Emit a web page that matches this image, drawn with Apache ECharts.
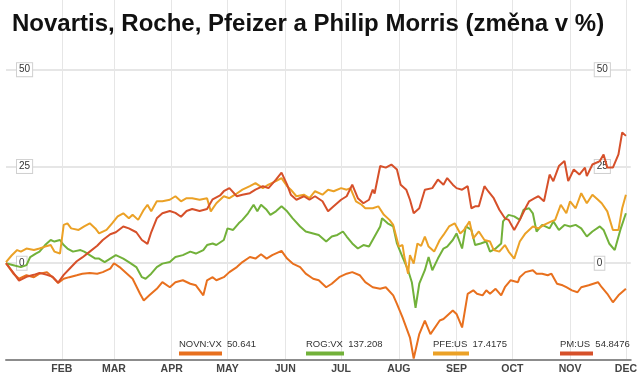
<!DOCTYPE html>
<html>
<head>
<meta charset="utf-8">
<script src="https://cdn.jsdelivr.net/npm/echarts@6/dist/echarts.min.js"></script>
<style>
  html, body { margin: 0; padding: 0; background: #fff; }
  #container { width: 640px; height: 376px; }
</style>
</head>
<body>
<div id="container"></div>
<script>
// days counted from 1 Jan 2011, values = change in %
var novnDays = [1,5,8,12,16,19,23,26,29,32,35,39,42,46,50,53,57,59,62,66,69,73,75,78,82,85,89,92,96,100,103,107,109,112,114,118,121,125,128,132,135,138,141,144,149,152,155,159,162,166,169,173,176,180,184,187,191,194,198,202,205,209,211,214,218,220,223,226,229,234,236,241,243,246,249,252,254,257,259,261,264,267,269,272,276,277,280,284,286,289,292,294,297,300,302,305,308,310,314,319,321,324,327,330,334];
var novnVals = [0,-2.7,-4,-3.1,-3.6,-2.7,-2.3,-3.6,-5.1,-4,-3.6,-3.1,-2.7,-2.5,-2.7,-2.3,-1.4,0,-1,-2.7,-4,-7.9,-9.6,-8.3,-6.6,-4.9,-6.2,-4.9,-4.4,-5.3,-5.7,-8.3,-4.4,-3.6,-4.4,-3.6,-2.3,-1,0.3,1.6,1.2,2.3,1.2,2.1,3.2,1.2,-0.1,-1,-2.7,-4,-4.4,-6.2,-5.3,-3.6,-2.7,-2.3,-3.1,-4.9,-6.2,-6.6,-6.2,-8.3,-10.5,-14,-19.2,-24.6,-18.3,-14.8,-18.3,-14.8,-14.4,-12.2,-13.1,-16.6,-7.9,-7,-7.9,-8.3,-7,-7.9,-6.6,-8.3,-6.2,-4.4,-4.9,-3.6,-2.3,-1.8,-2.7,-2.7,-3.1,-2.7,-5.3,-5.7,-6.2,-7,-7.5,-6.2,-5.7,-4.9,-6.2,-7.9,-10.1,-8.3,-6.6];

var rogDays = [1,5,9,12,14,17,19,22,25,27,30,32,34,37,41,43,46,49,51,54,57,60,64,67,71,74,76,79,82,85,89,92,96,100,103,107,109,112,114,118,120,123,126,128,131,134,136,138,141,143,146,149,152,155,159,162,166,169,173,176,179,182,184,187,190,193,196,199,202,203,206,209,211,214,217,219,221,223,226,228,230,233,236,238,241,243,246,248,251,253,256,259,261,264,267,268,271,274,277,279,282,284,286,289,293,295,298,301,304,307,310,313,316,320,322,325,328,331,334];
var rogVals = [0,-0.5,-1,-0.5,1.6,2.5,3,4.7,6,5.6,6,4.7,3.8,3,3.4,3,2.1,1.2,1.2,0.3,1.2,2.1,1.2,0.3,-1,-3.6,-4,-2.7,-1,-0.1,0.3,1.6,2.1,3,2.5,3.4,4.7,5.1,4.7,6,9,8.6,10.3,11.2,12.9,15.1,13.4,15.1,13.8,12.5,13.4,14.7,13.4,11.6,9.5,8.2,7.7,7.3,5.6,6.9,7.3,8.2,6.9,5.1,3.8,4.7,4.3,6.9,9.5,11.6,10.3,9.5,5.1,1.6,-1.8,-4.9,-11.5,-5.3,-1.8,1.6,-1.8,1.2,3.8,4.3,6,7.7,3.8,9.5,8.6,4.7,5.1,5.6,3,3.8,5.1,10.8,12.5,12.1,11.2,13.8,14.2,12.9,8.2,9.9,9,10.8,8.6,9.9,9.5,9.9,9,6.9,8.2,9.5,8.6,5.1,3.4,8.6,12.9];

var pfeDays = [1,4,7,9,12,16,19,22,25,27,30,32,34,36,40,43,46,49,51,55,58,61,64,67,69,72,75,77,79,82,85,89,92,95,98,101,105,109,111,114,118,121,124,128,132,135,139,142,146,149,152,154,157,161,164,167,171,174,177,181,184,186,189,192,194,198,201,204,207,209,212,214,215,217,218,220,222,224,226,228,231,234,236,239,242,245,247,250,252,255,258,261,263,266,269,271,274,277,280,284,287,290,294,296,299,302,304,307,310,313,316,319,321,324,327,330,332,334];
var pfeVals = [0.3,2,3.4,3,3.8,3.4,3.8,4.3,4.7,3,2.5,9.9,10.3,9,8.6,9.5,10.3,9,7.7,8.6,10.3,12.1,12.9,11.6,12.5,11.2,13.8,15.1,13.4,16,16,16.4,17.3,16,16.8,16.8,16.4,16.8,13.4,15.5,17.3,16.8,17.7,19,19.9,20.7,19.4,20.3,21.2,22,19.9,19,17.3,17.7,16.8,18.6,17.7,19,18.6,19.4,19,19.4,16,15.1,14.2,14.2,14.7,12.5,11.2,9.9,4.3,4.7,1.6,-2.7,2.1,-0.1,5.1,4.5,6.9,4.3,3,6,7.3,9.5,10.3,7.7,8.6,10.8,6.4,8.2,6,5.6,3.4,3,4.7,3,1.2,5.6,7.7,9.5,9,9.9,10.8,11.2,15.1,12.9,16,14.2,18.1,15.5,17.7,16.4,15.5,13.4,8.6,8.6,14.2,17.7];

var pmDays = [1,5,8,12,16,19,23,26,29,32,35,39,42,46,50,53,57,60,64,67,71,74,77,79,82,85,89,92,95,98,101,105,109,112,116,118,121,125,128,132,135,139,142,146,149,152,154,157,161,164,167,171,174,177,181,184,187,190,193,196,198,199,202,205,208,211,213,216,218,220,223,226,227,230,233,236,238,241,243,246,249,251,253,255,258,260,263,266,269,271,274,277,280,282,285,287,290,293,295,298,301,303,306,309,312,313,316,320,322,324,327,330,332,334];
var pmVals = [0,-2.5,-4.5,-3.5,-3,-2.5,-3,-3.5,-5,-3,-1.5,0.5,1.5,3,4.5,6,7.5,8,9.5,9,8,6,5,8,11.6,12.9,13.5,13,12,13.5,14,13.5,14,16.5,17.5,18.6,19.4,17.3,17.7,18.1,19,19.9,19.4,21.6,23.4,20.3,17.7,16.4,17.3,16.4,17.3,16,13.4,14.7,16.4,17.3,20.3,16.8,15.5,16.4,19,18,25.1,24.7,25.5,24.2,20.3,19,16.4,12.9,14.2,19,18.6,19.4,21.6,20.3,22,20.3,19.4,19,19.9,14.2,14.7,14.7,19.9,18.6,16.8,13.8,11.6,11.2,8.6,11.2,14.2,16,16.8,17.3,16,22.9,21.2,25.1,26.4,21.2,24.2,22.9,24.7,22.5,25.5,26.4,28.1,24.7,24.7,28.1,33.8,32.9];

var tickers = ['NOVN:VX', 'ROG:VX', 'PFE:US', 'PM:US'];
var prices = ['50.641', '137.208', '17.4175', '54.8476'];
var months = ['JAN','FEB','MAR','APR','MAY','JUN','JUL','AUG','SEP','OCT','NOV','DEC'];

var colors = ['#e8701e', '#72b13a', '#eba126', '#d6502a'];
var barWidths = [43, 38, 36, 33];

var DAY = 86400000;
var start = new Date(2011, 0, 1).getTime();
function toPairs(days, vals) {
  var res = [];
  for (var i = 0; i < days.length; i++) {
    res.push([start + days[i] * DAY, vals[i]]);
  }
  return res;
}

var allDays = [novnDays, rogDays, pfeDays, pmDays];
var allVals = [novnVals, rogVals, pfeVals, pmVals];

var myChart = echarts.init(document.getElementById('container'));

var series = [];
var legends = [];
for (var i = 0; i < tickers.length; i++) {
  series.push({
    name: tickers[i],
    type: 'line',
    showSymbol: false,
    silent: true,
    data: toPairs(allDays[i], allVals[i]),
    lineStyle: { width: 2, color: colors[i] },
    itemStyle: { color: colors[i] }
  });
  var rich = {
    t: { fontSize: 9.5, lineHeight: 12, color: '#333', fontFamily: 'Liberation Sans' }
  };
  rich['b' + i] = { width: barWidths[i], height: 4, lineHeight: 7, backgroundColor: colors[i] };
  legends.push({
    data: [tickers[i]],
    left: 169 + i * 127,
    top: 334,
    icon: 'rect',
    itemWidth: 0,
    itemHeight: 0,
    selectedMode: false,
    formatter: (function (k) {
      return function (name) {
        return '{t|' + name + '  ' + prices[k] + '}\n{b' + k + '|}';
      };
    })(i),
    textStyle: { rich: rich }
  });
}

var labelBox = {
  inside: true,
  showMinLabel: false,
  showMaxLabel: false,
  fontSize: 10,
  color: '#333',
  fontFamily: 'Liberation Sans',
  backgroundColor: '#fff',
  borderColor: '#d0d0d0',
  borderWidth: 1,
  padding: [2, 2, 1, 2]
};

var option = {
  animation: false,
  title: {
    text: 'Novartis, Roche, Pfeizer a Philip Morris (změna v %)',
    left: 7,
    top: 7,
    textStyle: { fontSize: 24, fontWeight: 'bold', color: '#111', fontFamily: 'Liberation Sans' }
  },
  legend: legends,
  grid: { left: 6, right: 8, top: 0, bottom: 16 },
  xAxis: {
    type: 'time',
    min: start + 1 * DAY,
    max: start + 336.6 * DAY,
    minInterval: 28 * DAY,
    maxInterval: 31 * DAY,
    axisLine: { onZero: false, lineStyle: { color: '#8c8c8c', width: 2 } },
    axisTick: { show: false },
    splitLine: { show: true, showMinLine: false, showMaxLine: false, lineStyle: { color: '#e6e6e6', width: 1 } },
    axisLabel: {
      showMinLabel: false,
      showMaxLabel: false,
      margin: 4,
      fontSize: 10.5,
      fontWeight: 'bold',
      color: '#444',
      fontFamily: 'Liberation Sans',
      formatter: function (v) { return months[new Date(v).getMonth()]; }
    }
  },
  yAxis: [{
    type: 'value',
    position: 'left',
    min: -25,
    max: 68,
    interval: 25,
    axisLine: { show: false },
    axisTick: { show: false },
    splitLine: { showMinLine: false, showMaxLine: false, lineStyle: { color: '#dedede', width: 1.5 } },
    axisLabel: Object.assign({}, labelBox, { margin: 11 })
  }, {
    type: 'value',
    position: 'right',
    min: -25,
    max: 68,
    interval: 25,
    axisLine: { show: false },
    axisTick: { show: false },
    splitLine: { show: false },
    axisLabel: Object.assign({}, labelBox, { margin: 36, align: 'left' })
  }],
  series: series
};

myChart.setOption(option);
</script>
</body>
</html>
